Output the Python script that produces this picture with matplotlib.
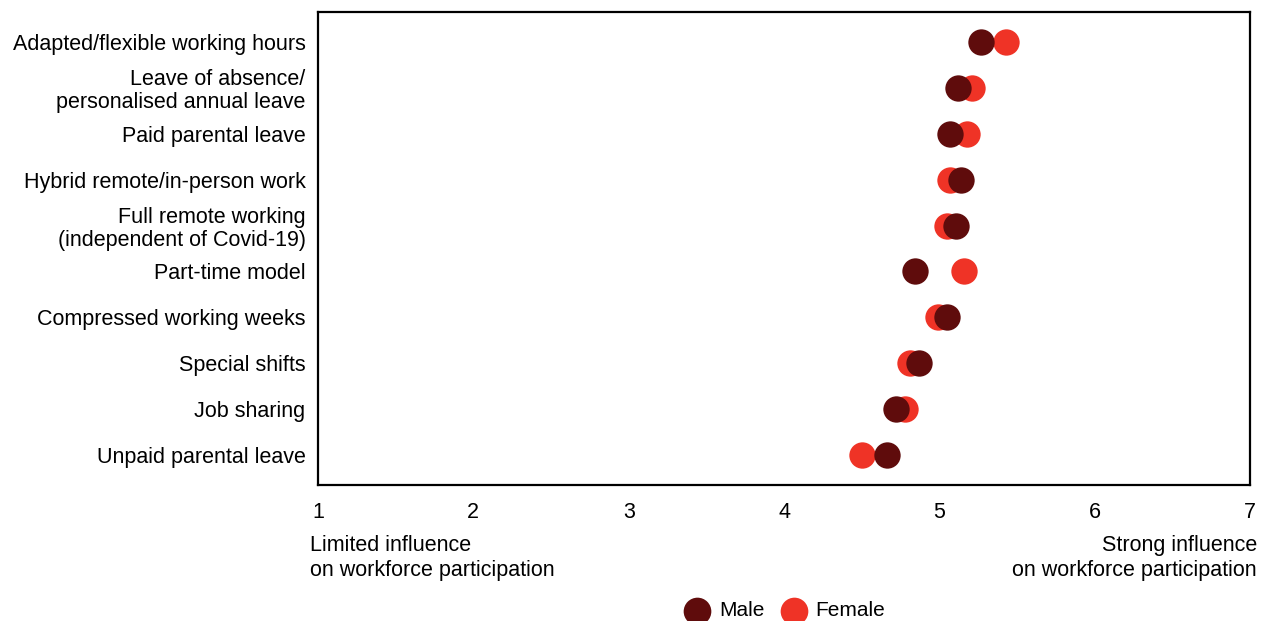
import matplotlib.pyplot as plt

plt.rcParams['font.family'] = ['Liberation Sans', 'DejaVu Sans']

categories = [
    'Adapted/flexible working hours',
    'Leave of absence/\npersonalised annual leave',
    'Paid parental leave',
    'Hybrid remote/in-person work',
    'Full remote working\n(independent of Covid-19)',
    'Part-time model',
    'Compressed working weeks',
    'Special shifts',
    'Job sharing',
    'Unpaid parental leave',
]
male = [5.27, 5.12, 5.07, 5.14, 5.11, 4.84, 5.05, 4.87, 4.72, 4.66]
female = [5.43, 5.21, 5.18, 5.07, 5.05, 5.16, 4.99, 4.81, 4.78, 4.50]
xticks = [1, 2, 3, 4, 5, 6, 7]

male_color = '#5f0c0c'
female_color = '#ef3326'
fs = 15.5

fig = plt.figure(figsize=(12.66, 6.21), dpi=100)
ax = fig.add_axes([0.2512, 0.219, 0.7362, 0.7617])

y = list(range(len(categories)))
ax.scatter(female, y, s=360, color=female_color, label='Female', zorder=3, linewidths=0)
ax.scatter(male, y, s=360, color=male_color, label='Male', zorder=4, linewidths=0)

ax.set_xlim(1, 7)
ax.set_ylim(len(categories) - 0.35, -0.65)
ax.set_xticks(xticks)
ax.set_xticklabels([str(t) for t in xticks])
ax.set_yticks(y)
ax.set_yticklabels(categories, linespacing=1.1)
ax.tick_params(axis='both', length=0, labelsize=fs)
ax.tick_params(axis='x', pad=12)
ax.tick_params(axis='y', pad=9)
for sp in ax.spines.values():
    sp.set_linewidth(1.6)

fig.text(310 / 1266, 1 - 558 / 621, 'Limited influence\non workforce participation',
         ha='left', va='center', fontsize=fs, linespacing=1.22)
fig.text(1257 / 1266, 1 - 558 / 621, 'Strong influence\non workforce participation',
         ha='right', va='center', fontsize=fs, linespacing=1.22)

handles, labels = ax.get_legend_handles_labels()
fig.legend(handles[::-1], labels[::-1], loc='center', bbox_to_anchor=(781 / 1266, 1 - 611 / 621),
           ncol=2, frameon=False, fontsize=15, handletextpad=0.05, columnspacing=0.4,
           markerscale=1.05, borderpad=0)

fig.savefig('out.png', dpi=100)
